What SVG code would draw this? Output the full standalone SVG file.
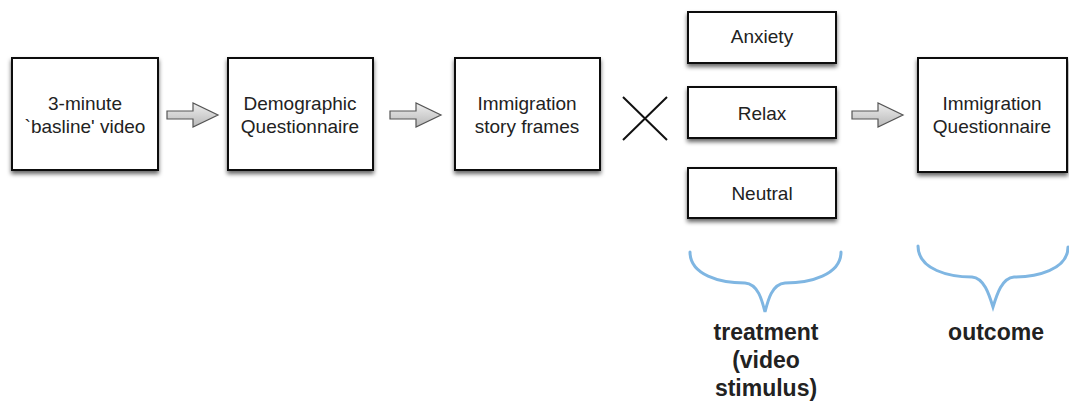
<svg xmlns="http://www.w3.org/2000/svg" width="1069" height="401" viewBox="0 0 1069 401">
<defs>
<filter id="sh" x="-10%" y="-10%" width="130%" height="140%">
<feDropShadow dx="0" dy="3" stdDeviation="2" flood-color="#000" flood-opacity="0.6"/>
</filter>
<linearGradient id="ag" x1="0" y1="0" x2="0" y2="1">
<stop offset="0" stop-color="#eeeeee"/>
<stop offset="1" stop-color="#b8b8b8"/>
</linearGradient>
<path id="arrow" d="M0,-4 L26,-4 L26,-12 L51,0 L26,12 L26,4 L0,4 Z"/>
</defs>
<style>
.box{fill:#fff;stroke:#111;stroke-width:2;filter:url(#sh)}
.t{font-family:"Liberation Sans",Arial,sans-serif;font-size:19px;fill:#222;text-anchor:middle}
.b{font-family:"Liberation Sans",Arial,sans-serif;font-size:23px;font-weight:bold;fill:#222;text-anchor:middle}
.ar{fill:url(#ag);stroke:#555;stroke-width:1.2}
.br{fill:none;stroke:#7fb6e2;stroke-width:3;stroke-linecap:round}
</style>
<rect width="1069" height="401" fill="#fff"/>
<g id="connectors">
<use href="#arrow" class="ar" x="167" y="115"/>
<use href="#arrow" class="ar" x="390" y="115"/>
<use href="#arrow" class="ar" x="852" y="115"/>
<path d="M623,97 L667,140 M667,97 L623,140" stroke="#111" stroke-width="2" fill="none"/>
</g>
<g id="n1"><rect class="box" x="12" y="58" width="146" height="112"/>
<text class="t" x="85" y="110">3-minute</text><text class="t" x="85" y="133">`basline' video</text></g>
<g id="n2"><rect class="box" x="228" y="58" width="145" height="112"/>
<text class="t" x="300" y="110">Demographic</text><text class="t" x="300" y="133">Questionnaire</text></g>
<g id="n3"><rect class="box" x="455" y="58" width="145" height="112"/>
<text class="t" x="527" y="110">Immigration</text><text class="t" x="527" y="133">story frames</text></g>
<g id="n4"><rect class="box" x="688" y="12" width="148" height="51"/>
<text class="t" x="762" y="43">Anxiety</text></g>
<g id="n5"><rect class="box" x="688" y="87" width="148" height="51"/>
<text class="t" x="762" y="120">Relax</text></g>
<g id="n6"><rect class="box" x="688" y="168" width="148" height="50"/>
<text class="t" x="762" y="200">Neutral</text></g>
<g id="n7"><rect class="box" x="918" y="58" width="149" height="114"/>
<text class="t" x="992" y="110">Immigration</text><text class="t" x="992" y="133">Questionnaire</text></g>
<g id="treatment">
<path class="br" d="M690,252 C690,275 720,283 745,283 C758,284 762,300 765,312 C768,300 772,284 785,283 C810,283 841,275 841,252"/>
<text class="b" x="766" y="340">treatment</text>
<text class="b" x="766" y="368">(video</text>
<text class="b" x="766" y="396">stimulus)</text>
</g>
<g id="outcome">
<path class="br" d="M918,246 C918,270 950,277 972,277 C984,278 989,294 993,307 C997,294 1002,278 1014,277 C1036,277 1068,270 1068,247"/>
<text class="b" x="996" y="340">outcome</text>
</g>
</svg>
